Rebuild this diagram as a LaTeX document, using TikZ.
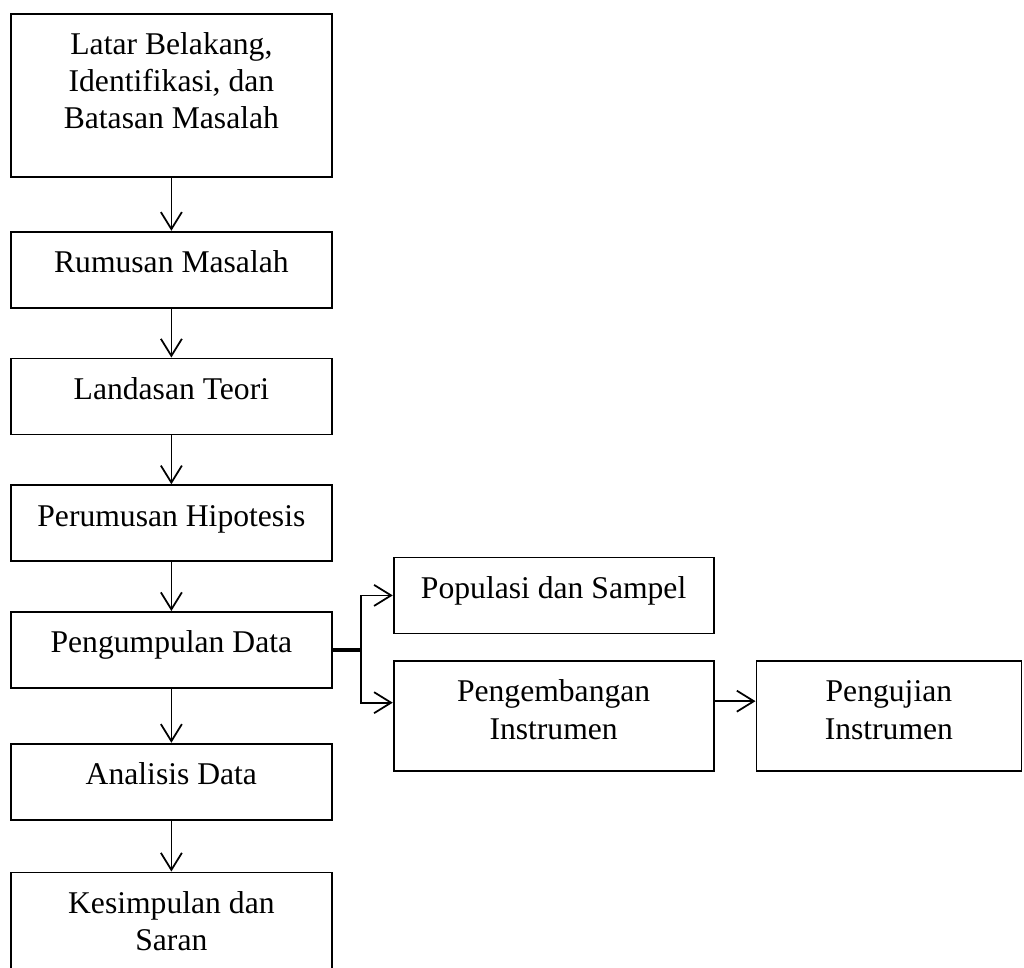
\documentclass[tikz,border=0pt]{standalone}
\usepackage{fontspec}
\setmainfont{Liberation Serif}
\usepackage{tikz}
\usetikzlibrary{arrows.meta,positioning}

\begin{document}
\begin{tikzpicture}[
  node distance=0.98cm and 1.2cm,
  flowbox/.style={
    rectangle, draw=black, line width=1pt,
    minimum width=6.42cm, inner ysep=0pt, align=center,
    font=\fontsize{18}{21.3}\selectfont,
    text height=0.82cm, text depth=0.70cm
  },
  tallbox/.style={flowbox, text height=1.56cm, text depth=0.64cm},
  arr/.style={-{Straight Barb[length=0.34cm,width=0.42cm]}, line width=1pt},
  splitline/.style={line width=2pt}
]

\useasboundingbox (0,0) rectangle (20.48,-19.36);

\node[flowbox, text height=2.30cm, text depth=0.96cm, anchor=north west]
  at (0.2,-0.26) (latar) {Latar Belakang,\\Identifikasi, dan\\Batasan Masalah};

\node[flowbox, below=1.06cm of latar] (rumusan) {Rumusan Masalah};
\node[flowbox, below=of rumusan] (landasan) {Landasan Teori};
\node[flowbox, below=of landasan] (hipotesis) {Perumusan Hipotesis};
\node[flowbox, below=of hipotesis] (kumpul) {Pengumpulan Data};
\node[flowbox, below=1.08cm of kumpul] (analisis) {Analisis Data};
\node[tallbox, text depth=1.0cm, below=1.02cm of analisis] (simpulan)
  {Kesimpulan dan\\Saran};

\draw[arr] (latar) -- (rumusan);
\draw[arr] (rumusan) -- (landasan);
\draw[arr] (landasan) -- (hipotesis);
\draw[arr] (hipotesis) -- (kumpul);
\draw[arr] (kumpul) -- (analisis);
\draw[arr] (analisis) -- (simpulan);

\node[flowbox, minimum width=6.4cm, right=of kumpul, yshift=1.09cm] (populasi)
  {Populasi dan Sampel};
\node[tallbox, minimum width=6.4cm, below=0.52cm of populasi] (kembang)
  {Pengembangan\\Instrumen};
\node[tallbox, minimum width=5.3cm, right=0.82cm of kembang] (uji)
  {Pengujian\\Instrumen};

\coordinate (split) at ([xshift=0.56cm]kumpul.east);
\draw[splitline] (kumpul.east) -- (split);
\draw[arr] (split) |- (populasi.west);
\draw[arr] (split) |- ([yshift=0.27cm]kembang.west);
\draw[arr] ([yshift=0.3cm]kembang.east) -- ([yshift=0.3cm]kembang.east -| uji.west);

\end{tikzpicture}
\end{document}
